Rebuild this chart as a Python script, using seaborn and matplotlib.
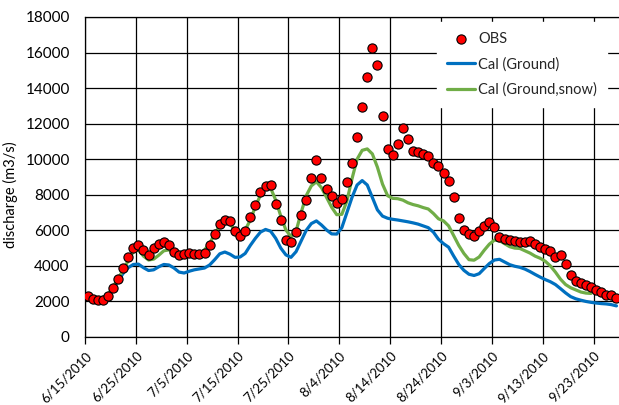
import numpy as np
import pandas as pd
import matplotlib
matplotlib.use("Agg")
import matplotlib.pyplot as plt
import matplotlib.dates as mdates
from matplotlib.ticker import FuncFormatter
import seaborn as sns

# daily values, 6/15/2010 onwards
obs = [2310, 2160, 2080, 2100, 2290, 2760, 3280, 3860, 4500, 5000,
       5180, 4870, 4630, 5010, 5220, 5330, 5180, 4780, 4630, 4690,
       4740, 4680, 4660, 4750, 5150, 5800, 6350, 6600, 6500, 5950,
       5670, 5950, 6740, 7450, 8130, 8510, 8530, 7460, 6560, 5460,
       5350, 5880, 6840, 7720, 8940, 9950, 8960, 8300, 7950, 7530,
       7740, 8730, 9800, 11260, 12960, 14600, 16250, 15310, 12420, 10560,
       10250, 10870, 11760, 11140, 10470, 10400, 10320, 10160, 9770, 9600,
       9210, 8750, 7890, 6670, 6000, 5800, 5680, 5990, 6270, 6480,
       6160, 5650, 5510, 5440, 5400, 5370, 5370, 5420, 5250, 5050,
       4940, 4840, 4520, 4620, 4110, 3480, 3140, 3050, 2920, 2790,
       2640, 2520, 2390, 2340, 2210]

cal_ground = [2300, 2230, 2200, 2230, 2350, 2700, 3150, 3580, 3900, 4080,
              4100, 3900, 3740, 3780, 3950, 4080, 4050, 3880, 3650, 3600,
              3700, 3780, 3830, 3880, 4050, 4350, 4680, 4780, 4660, 4480,
              4500, 4700, 5150, 5550, 5900, 6050, 5950, 5550, 5000, 4620,
              4480, 4800, 5400, 6000, 6380, 6530, 6300, 6020, 5800, 5790,
              6150, 7000, 7850, 8550, 8800, 8550, 7850, 7150, 6800, 6680,
              6620, 6580, 6530, 6480, 6420, 6350, 6250, 6150, 5900, 5500,
              5250, 5050, 4550, 4080, 3750, 3530, 3460, 3560, 3850, 4130,
              4330, 4370, 4220, 4070, 3980, 3920, 3820, 3680, 3520, 3370,
              3230, 3110, 2950, 2720, 2480, 2270, 2150, 2070, 2000, 1950,
              1910, 1880, 1860, 1820, 1750]

cal_ground_snow = [2300, 2230, 2200, 2230, 2400, 2800, 3300, 3750, 4300, 4800,
                   4900, 4550, 4330, 4380, 4600, 4850, 4900, 4720, 4620, 4680,
                   4720, 4680, 4700, 4900, 5250, 5800, 6250, 6520, 6350, 6020,
                   5780, 6020, 6580, 7330, 7980, 8380, 8380, 7700, 6800, 6020,
                   5650, 5950, 7000, 7950, 8500, 8730, 8400, 7850, 7300, 6880,
                   6900, 7650, 8900, 10000, 10500, 10580, 10300, 9550, 8600, 7950,
                   7800, 7780, 7700, 7550, 7450, 7380, 7280, 7200, 6950, 6650,
                   6530, 6250, 5700, 5150, 4700, 4350, 4320, 4500, 4880, 5220,
                   5450, 5420, 5250, 5080, 5000, 4980, 4850, 4720, 4550, 4430,
                   4260, 4000, 3650, 3250, 2950, 2770, 2650, 2530, 2470, 2450]

dates = pd.date_range("2010-06-15", periods=len(obs), freq="D")
tick_dates = pd.date_range("2010-06-15", periods=11, freq="10D")

df = pd.DataFrame({
    "date": dates + pd.Timedelta(hours=12),
    "obs": obs,
    "ground": cal_ground,
    "snow": cal_ground_snow + [np.nan] * (len(obs) - len(cal_ground_snow)),
})

sns.set_theme(style="white")
plt.rcParams["font.family"] = ["Lato", "DejaVu Sans"]

fig = plt.figure(figsize=(6.19, 4.05), dpi=100)
ax = fig.add_axes([85 / 619, 1 - 337 / 405, 1 - 85 / 619, 320 / 405])

sns.lineplot(data=df, x="date", y="ground", ax=ax, color="#0070C0",
             linewidth=2.3, estimator=None, label="Cal (Ground)", zorder=3)
sns.lineplot(data=df.dropna(), x="date", y="snow", ax=ax, color="#70AD47",
             linewidth=2.3, estimator=None, label="Cal (Ground,snow)", zorder=3)
sns.scatterplot(data=df, x="date", y="obs", ax=ax, color="#FF0000",
                edgecolor="black", linewidth=0.8, s=44, label="OBS", zorder=4)

ax.set_xlim(dates[0], dates[0] + pd.Timedelta(days=105))
ax.set_ylim(0, 18000)
ax.set_yticks(range(0, 18001, 2000))
ax.set_xticks(tick_dates)
ax.xaxis.set_major_formatter(FuncFormatter(
    lambda v, pos: "{0.month}/{0.day}/{0.year}".format(mdates.num2date(v))))

ax.grid(True, color="black", linewidth=0.9)
for side in ["left", "bottom", "top"]:
    ax.spines[side].set_color("black")
    ax.spines[side].set_linewidth(0.9)
ax.spines["right"].set_visible(False)

ax.tick_params(axis="y", length=0, labelsize=11, pad=11, colors="black")
ax.tick_params(axis="x", length=5, width=0.9, direction="out", labelsize=9.5,
               colors="black", bottom=True, pad=4)
for lbl in ax.get_xticklabels():
    lbl.set_rotation(45)
    lbl.set_ha("right")
    lbl.set_va("top")
    lbl.set_rotation_mode("anchor")

ax.set_xlabel("")
ax.set_ylabel("discharge (m3/s)", fontsize=10.5, color="black")
ax.yaxis.set_label_coords(-0.125, 0.445)

handles, labels = ax.get_legend_handles_labels()
order = [labels.index(n) for n in ["OBS", "Cal (Ground)", "Cal (Ground,snow)"]]
leg = ax.legend([handles[i] for i in order], [labels[i] for i in order],
                loc="upper right", bbox_to_anchor=(0.988, 1.0), frameon=True,
                fancybox=False, edgecolor="white", framealpha=1, fontsize=10.5,
                handlelength=1.9, handletextpad=0.25, labelspacing=0.75,
                borderpad=0.7, borderaxespad=0.35)

fig.savefig("out.png", dpi=100)
